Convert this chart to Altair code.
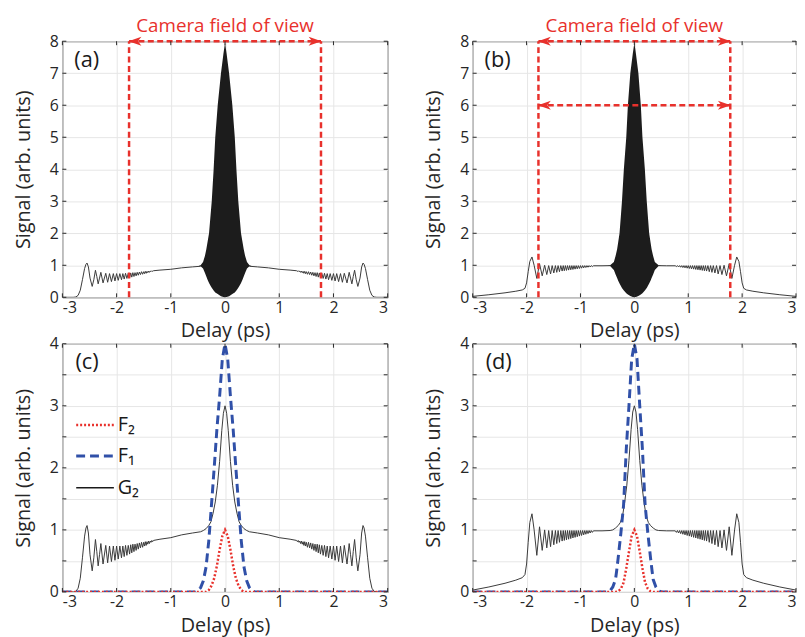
import altair as alt
import pandas as pd

# ---------------- values ----------------
X_TICKS = [-3, -2, -1, 0, 1, 2, 3]
Y_TICKS_TOP = [0, 1, 2, 3, 4, 5, 6, 7, 8]
Y_TICKS_BOTTOM = [0, 0.5, 1, 1.5, 2, 2.5, 3, 3.5, 4]

# G2 wing, negative delays (panels a and c share it)
WING_AC_X = [-3.0, -2.8, -2.75, -2.71, -2.67, -2.63, -2.59, -2.565, -2.545, -2.52, -2.49,
             -2.45, -2.42, -2.39, -2.365, -2.34, -2.315, -2.29, -2.25, -2.20, -2.165, -2.13,
             -2.095, -2.06, -2.03, -2.00, -1.97, -1.94, -1.91, -1.885, -1.86, -1.835, -1.81,
             -1.785, -1.76, -1.74, -1.72, -1.70, -1.68, -1.66, -1.64, -1.62, -1.60, -1.58,
             -1.56, -1.54, -1.52, -1.50, -1.485, -1.47, -1.455, -1.44, -1.425, -1.41, -1.395,
             -1.38, -1.365, -1.35, -1.335, -1.32, -1.2, -1.0, -0.8, -0.6, -0.45]
WING_AC_Y = [0.0, 0.0, 0.01, 0.06, 0.22, 0.55, 0.9, 1.03, 1.07, 0.95, 0.6,
             0.34, 0.55, 0.845, 0.65, 0.42, 0.6, 0.78, 0.45, 0.75, 0.47, 0.74,
             0.49, 0.74, 0.51, 0.74, 0.53, 0.74, 0.55, 0.74, 0.57, 0.75, 0.59,
             0.75, 0.61, 0.76, 0.63, 0.77, 0.65, 0.77, 0.67, 0.78, 0.69, 0.79,
             0.71, 0.80, 0.72, 0.80, 0.74, 0.81, 0.75, 0.81, 0.77, 0.82, 0.78,
             0.82, 0.80, 0.83, 0.81, 0.83, 0.85, 0.875, 0.92, 0.95, 0.97]
# G2 wing, negative delays (panels b and d share it)
WING_BD_X = [-3.0, -2.7, -2.4, -2.2, -2.08, -2.03, -2.0, -1.97, -1.94, -1.90, -1.86, -1.81,
             -1.76, -1.71, -1.665, -1.625, -1.59, -1.555, -1.525, -1.495, -1.465, -1.44,
             -1.415, -1.39, -1.365, -1.34, -1.32, -1.30, -1.28, -1.26, -1.24, -1.22, -1.20,
             -1.18, -1.16, -1.14, -1.12, -1.10, -1.08, -1.06, -1.04, -1.02, -1.0, -0.98,
             -0.96, -0.94, -0.92, -0.90, -0.88, -0.86, -0.84, -0.82, -0.80, -0.78, -0.76,
             -0.6, -0.45]
WING_BD_Y = [0.03, 0.08, 0.14, 0.19, 0.23, 0.28, 0.45, 0.8, 1.12, 1.26, 1.0, 0.59,
             1.05, 0.67, 1.0, 0.71, 0.99, 0.73, 0.99, 0.76, 0.99, 0.78,
             0.99, 0.80, 0.99, 0.82, 0.99, 0.83, 0.99, 0.84, 0.99, 0.85, 0.99,
             0.86, 0.99, 0.87, 0.99, 0.88, 0.99, 0.89, 0.99, 0.90, 0.99, 0.91,
             0.99, 0.92, 0.99, 0.93, 0.99, 0.94, 0.99, 0.95, 0.99, 0.96, 0.985,
             0.985, 0.99]

# smooth G2 around zero delay (left half)
CENTER_C_X = [-0.4, -0.35, -0.3, -0.26, -0.22, -0.18, -0.14, -0.1, -0.06, -0.03, 0.0]
CENTER_C_Y = [0.99, 1.02, 1.07, 1.13, 1.27, 1.45, 1.72, 2.1, 2.6, 2.88, 3.0]
CENTER_D_X = [-0.4, -0.35, -0.3, -0.26, -0.22, -0.18, -0.14, -0.1, -0.06, -0.03, 0.0]
CENTER_D_Y = [1.0, 1.03, 1.07, 1.12, 1.22, 1.44, 1.72, 2.12, 2.62, 2.9, 3.0]

# F1 and F2 (left half)
F1_C_X = [-3.0, -0.55, -0.5, -0.45, -0.4, -0.35, -0.3, -0.25, -0.2, -0.15, -0.1, -0.05, 0.0]
F1_C_Y = [0.0, 0.0, 0.02, 0.07, 0.18, 0.4, 0.82, 1.4, 2.0, 2.62, 3.15, 3.75, 4.0]
F2_C_X = [-3.0, -0.4, -0.35, -0.3, -0.25, -0.2, -0.15, -0.1, -0.05, 0.0]
F2_C_Y = [0.0, 0.0, 0.0, 0.03, 0.1, 0.22, 0.42, 0.68, 0.9, 1.0]
F1_D_X = [-3.0, -0.5, -0.45, -0.4, -0.35, -0.33, -0.3, -0.25, -0.2, -0.15, -0.1, -0.05, 0.0]
F1_D_Y = [0.0, 0.0, 0.02, 0.08, 0.2, 0.33, 0.55, 0.95, 1.4, 2.3, 3.0, 3.75, 4.0]
F2_D_X = [-3.0, -0.35, -0.3, -0.25, -0.2, -0.15, -0.1, -0.05, 0.0]
F2_D_Y = [0.0, 0.0, 0.01, 0.05, 0.15, 0.38, 0.65, 0.9, 1.0]

# fringe-resolved signal around zero delay: upper / lower envelope (left half)
FRINGE_A_X = [-0.5, -0.45, -0.405, -0.37, -0.345, -0.32, -0.295, -0.27, -0.245, -0.21,
              -0.18, -0.135, -0.075, -0.03, 0.0]
FRINGE_A_UP = [0.97, 1.0, 1.1, 1.3, 1.5, 1.75, 2.0, 2.5, 3.0, 4.0, 5.0, 6.0, 7.0, 7.6, 7.95]
FRINGE_A_LO = [0.97, 0.97, 0.9, 0.76, 0.65, 0.54, 0.45, 0.37, 0.3, 0.21, 0.15, 0.1, 0.035,
               0.01, 0.0]
FRINGE_B_X = [-0.5, -0.45, -0.38, -0.35, -0.32, -0.3, -0.275, -0.25, -0.23, -0.195, -0.15,
              -0.12, -0.075, -0.03, 0.0]
FRINGE_B_UP = [0.99, 1.0, 1.1, 1.28, 1.5, 1.72, 2.0, 2.55, 3.0, 4.0, 5.0, 6.0, 7.0, 7.6, 7.95]
FRINGE_B_LO = [0.99, 0.98, 0.85, 0.72, 0.6, 0.52, 0.43, 0.35, 0.29, 0.21, 0.13, 0.09, 0.04,
               0.01, 0.0]

# camera field of view (delay limits) and arrow heights
CAMERA_A = [-1.77, 1.77]
CAMERA_A_ARROWS = [8]
CAMERA_B = [-1.78, 1.78]
CAMERA_B_ARROWS = [8, 6]
CAMERA_TEXT = "Camera field of view"
PANEL_LABELS = ["(a)", "(b)", "(c)", "(d)"]
LEGEND_LABELS = ["F\u2082", "F\u2081", "G\u2082"]

# ---------------- styling ----------------
FONT = "Open Sans"
RED = "#e8312c"
BLUE = "#3050a8"
INK = "#262626"
TRACE = "#3a3a3a"
W_L, W_R = 329, 327
H_T, H_B = 259, 251


def mirror(xs, ys):
    """Symmetric continuation of a left-half series (the traces are symmetric in delay)."""
    rx = [-x for x in reversed(xs) if x != 0]
    ry = [y for x, y in zip(reversed(xs), reversed(ys)) if x != 0]
    return list(xs) + rx, list(ys) + ry


def df(xs, ys):
    return pd.DataFrame({"x": xs, "y": ys})


NEG = "datum.value < 0 ? '-' + format(-datum.value, 'd') : format(datum.value, 'd')"
INT_ONLY = "datum.value % 1 == 0 ? format(datum.value, 'd') : ''"
XSCALE = alt.Scale(domain=[-3, 3], nice=False, zero=False)


def xenc():
    return alt.X("x:Q", scale=XSCALE,
                 axis=alt.Axis(values=X_TICKS, title="Delay (ps)", labelExpr=NEG,
                               grid=True, ticks=False, domain=False,
                               labelPadding=2, titlePadding=6))


def yenc(ymax, ticks):
    return alt.Y("y:Q", scale=alt.Scale(domain=[0, ymax], nice=False, zero=False),
                 axis=alt.Axis(values=ticks, title="Signal (arb. units)", labelExpr=INT_ONLY,
                               grid=True, ticks=False, domain=False,
                               labelPadding=4, titlePadding=16))


def inward_ticks(W, H, ymax, yticks):
    tx = pd.DataFrame({"x": X_TICKS})
    ty = pd.DataFrame({"y": yticks})
    X = xenc()
    Y = yenc(ymax, yticks)
    rule = dict(color=INK, strokeWidth=1)
    return [
        alt.Chart(ty).mark_rule(**rule).encode(y=Y, x=alt.value(0), x2=alt.value(4)),
        alt.Chart(ty).mark_rule(**rule).encode(y=Y, x=alt.value(W - 4), x2=alt.value(W)),
        alt.Chart(tx).mark_rule(**rule).encode(x=X, y=alt.value(H - 4), y2=alt.value(H)),
        alt.Chart(tx).mark_rule(**rule).encode(x=X, y=alt.value(0), y2=alt.value(4)),
    ]


def label_layer(text, x, y, ymax, yticks):
    return alt.Chart(pd.DataFrame({"x": [x], "y": [y], "t": [text]})).mark_text(
        font=FONT, fontSize=22, color="#1a1a1a", align="left", baseline="alphabetic"
    ).encode(x=xenc(), y=yenc(ymax, yticks), text="t:N")


def camera_layers(limits, arrow_ys, ymax, yticks):
    X, Y = xenc(), yenc(ymax, yticks)
    red = dict(color=RED, strokeWidth=2.5, strokeDash=[6, 3.5])
    vert = pd.DataFrame({"x": limits, "y": [0, 0], "y2": [ymax, ymax]})
    horiz = pd.DataFrame({"x": [limits[0]] * len(arrow_ys), "x2": [limits[1]] * len(arrow_ys),
                          "y": arrow_ys})
    left = pd.DataFrame({"x": [limits[0]] * len(arrow_ys), "y": arrow_ys})
    right = pd.DataFrame({"x": [limits[1]] * len(arrow_ys), "y": arrow_ys})
    head = dict(filled=True, color=RED, size=169, opacity=1, clip=False)
    txt = pd.DataFrame({"x": [0.0], "y": [ymax * 1.035], "t": [CAMERA_TEXT]})
    return [
        alt.Chart(vert).mark_rule(clip=False, **red).encode(x=X, y=Y, y2="y2:Q"),
        alt.Chart(horiz).mark_rule(clip=False, **red).encode(x=X, x2="x2:Q", y=Y),
        alt.Chart(left).mark_point(shape="M-1,0L1,-0.7L0.45,0L1,0.7Z", xOffset=6, **head)
        .encode(x=X, y=Y),
        alt.Chart(right).mark_point(shape="M1,0L-1,-0.7L-0.45,0L-1,0.7Z", xOffset=-6, **head)
        .encode(x=X, y=Y),
        alt.Chart(txt).mark_text(font=FONT, fontSize=19, color=RED, align="center",
                                 baseline="alphabetic").encode(x=X, y=Y, text="t:N"),
    ]


def interferogram(W, wing_x, wing_y, fr_x, fr_up, fr_lo, limits, arrows, label):
    X, Y = xenc(), yenc(8, Y_TICKS_TOP)
    wl = df(wing_x, wing_y).assign(seg="L")
    wr = df([-v for v in wing_x], wing_y).assign(seg="R")
    fx, fu = mirror(fr_x, fr_up)
    _, fl = mirror(fr_x, fr_lo)
    area = pd.DataFrame({"x": fx, "y": fu, "y2": fl})
    layers = [
        alt.Chart(area).mark_area(color="#1c1c1c", clip=True, opacity=1)
        .encode(x=X, y=Y, y2="y2:Q"),
        alt.Chart(pd.concat([wl, wr])).mark_line(color=TRACE, strokeWidth=1, clip=True)
        .encode(x=X, y=Y, detail="seg:N"),
    ]
    layers += camera_layers(limits, arrows, 8, Y_TICKS_TOP)
    layers += [label_layer(label, -2.78, 7.2, 8, Y_TICKS_TOP)]
    layers += inward_ticks(W, H_T, 8, Y_TICKS_TOP)
    return alt.layer(*layers).properties(width=W, height=H_T)


def autocorr(W, wing_x, wing_y, cx, cy, f1x, f1y, f2x, f2y, label, legend):
    X, Y = xenc(), yenc(4, Y_TICKS_BOTTOM)
    gx, gy = mirror(list(wing_x) + list(cx), list(wing_y) + list(cy))
    ax, ay = mirror(f1x, f1y)
    bx, by = mirror(f2x, f2y)
    layers = [
        alt.Chart(df(gx, gy)).mark_line(color=TRACE, strokeWidth=1, clip=True)
        .encode(x=X, y=Y),
        alt.Chart(df(ax, ay)).mark_line(color=BLUE, strokeWidth=3, strokeDash=[9, 5], clip=True)
        .encode(x=X, y=Y),
        alt.Chart(df(bx, by)).mark_line(color=RED, strokeWidth=2.5, strokeDash=[2, 2], clip=True)
        .encode(x=X, y=Y),
        label_layer(label, -2.76, 3.6, 4, Y_TICKS_BOTTOM),
    ]
    if legend:
        styles = [(RED, 2.5, [2, 2]), (BLUE, 3, [9, 5]), ("#1a1a1a", 1.5, [1, 0])]
        rows = [2.69, 2.19, 1.68]
        for (col, sw, dash), ry, lab in zip(styles, rows, LEGEND_LABELS):
            seg = pd.DataFrame({"x": [-2.745], "x2": [-2.05], "y": [ry]})
            layers.append(alt.Chart(seg).mark_rule(color=col, strokeWidth=sw, strokeDash=dash)
                          .encode(x=X, x2="x2:Q", y=Y))
            t = pd.DataFrame({"x": [-1.98], "y": [ry], "t": [lab]})
            layers.append(alt.Chart(t).mark_text(font=FONT, fontSize=20, color="#1a1a1a",
                                                 align="left", baseline="middle")
                          .encode(x=X, y=Y, text="t:N"))
    layers += inward_ticks(W, H_B, 4, Y_TICKS_BOTTOM)
    return alt.layer(*layers).properties(width=W, height=H_B)


pa = interferogram(W_L, WING_AC_X, WING_AC_Y, FRINGE_A_X, FRINGE_A_UP, FRINGE_A_LO,
                   CAMERA_A, CAMERA_A_ARROWS, PANEL_LABELS[0])
pb = interferogram(W_R, WING_BD_X, WING_BD_Y, FRINGE_B_X, FRINGE_B_UP, FRINGE_B_LO,
                   CAMERA_B, CAMERA_B_ARROWS, PANEL_LABELS[1])
pc = autocorr(W_L, WING_AC_X, WING_AC_Y, CENTER_C_X, CENTER_C_Y, F1_C_X, F1_C_Y,
              F2_C_X, F2_C_Y, PANEL_LABELS[2], True)
pd_ = autocorr(W_R, WING_BD_X, WING_BD_Y, CENTER_D_X, CENTER_D_Y, F1_D_X, F1_D_Y,
               F2_D_X, F2_D_Y, PANEL_LABELS[3], False)

chart = alt.concat(pa, pb, pc, pd_, columns=2, spacing={"row": 47, "column": 86},
                   bounds="flush").properties(
    padding={"left": 5, "top": 5, "right": 0, "bottom": 0}
).configure_view(stroke=INK, strokeWidth=1).configure_axis(
    labelFont=FONT, labelFontSize=16, labelColor=INK,
    titleFont=FONT, titleFontSize=20, titleFontWeight="normal", titleColor=INK,
    gridColor="#e6e6e6", gridWidth=1
)

chart.save("out.html", embed_options={"renderer": "svg", "actions": False})
